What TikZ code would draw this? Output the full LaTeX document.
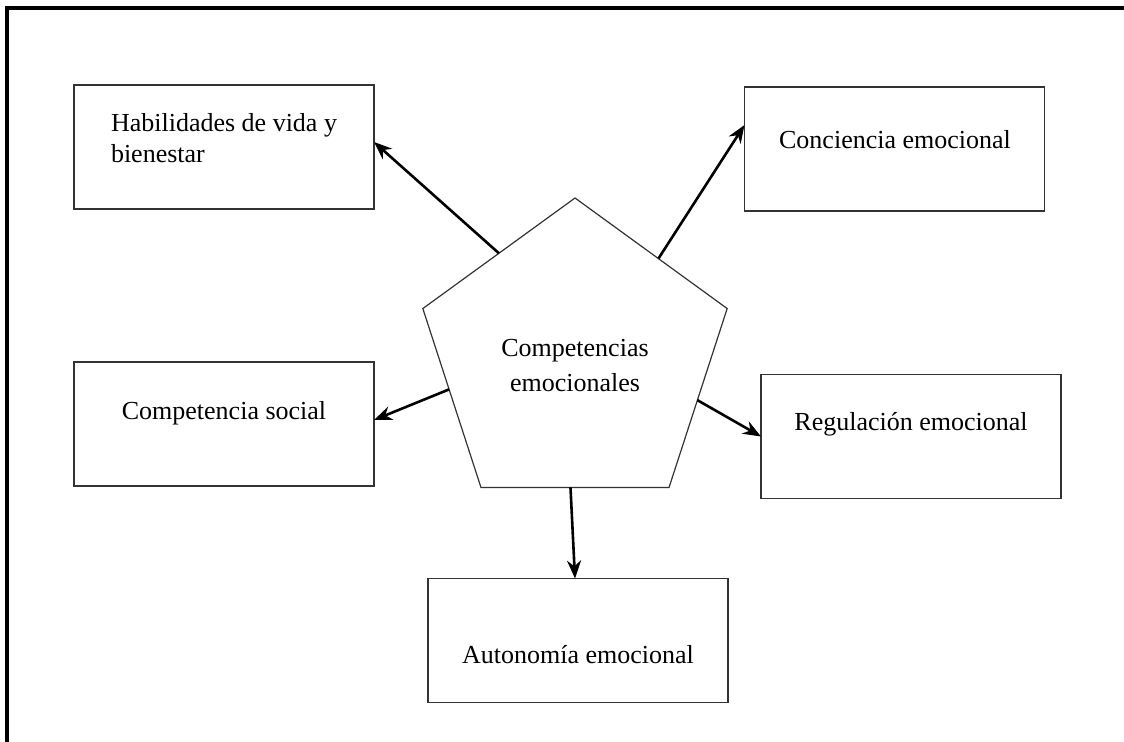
\documentclass[tikz,border=0pt]{standalone}
\usepackage{fontspec}
\setmainfont{Liberation Serif}
\usetikzlibrary{shapes.geometric,arrows.meta}
\tikzset{
  box/.style={draw=black!80, line width=0.75pt, minimum width=150pt, minimum height=62pt, inner sep=0pt, outer sep=0pt},
  lbl/.style={align=center, font=\fontsize{13pt}{15.5pt}\selectfont, inner sep=0pt},
  pent/.style={draw=black!80, line width=0.6pt, regular polygon, regular polygon sides=5, minimum size=160pt, inner sep=0pt, outer sep=0pt},
  arr/.style={-{Stealth[length=9pt,width=7pt]}, line width=1.3pt, black},
  frame/.style={line width=1.6pt, black}
}
\begin{document}
\begin{tikzpicture}[x=0.5pt,y=-0.5pt]
\useasboundingbox (0,0) rectangle (1124,742);
\coordinate (f1) at (7,742);
\coordinate (f2) at (7,8);
\coordinate (f3) at (1124,8);
\draw[frame] (f1) -- (f2) -- (f3);
\node[pent] (c) at (575,358) {};
\node[lbl, font=\fontsize{13pt}{17.5pt}\selectfont] (cT) at (575,365.5) {Competencias\\emocionales};
\node[box] (hab) at (224,147) {};
\node[lbl, align=left] (habT) at (224,138) {Habilidades de vida y\\bienestar};
\node[box] (con) at (894.5,149) {};
\node[lbl] (conT) at (895,140) {Conciencia emocional};
\node[box] (soc) at (224,424) {};
\node[lbl] (socT) at (224,413) {Competencia social};
\node[box] (reg) at (911,436.5) {};
\node[lbl] (regT) at (911,424) {Regulación emocional};
\node[box] (aut) at (578,640.5) {};
\node[lbl] (autT) at (578,655) {Autonomía emocional};
\draw[arr] (c.126) -- ([yshift=2.5pt]hab.east);
\draw[arr] (c.50.5) -- ([yshift=12pt]con.west);
\draw[arr] (c.194) -- ([yshift=2pt]soc.east);
\draw[arr] (c.341) -- (reg.west);
\draw[arr] (c.268.6) -- ([xshift=-1.5pt]aut.north);
\end{tikzpicture}
\end{document}
